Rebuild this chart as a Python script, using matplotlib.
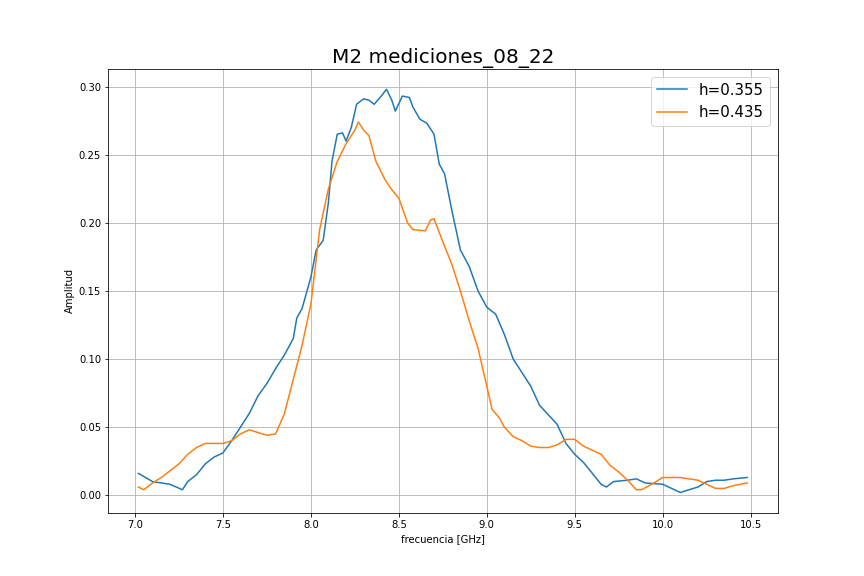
import matplotlib
matplotlib.use('Agg')
import matplotlib.pyplot as plt

freq_a = [7.02, 7.1, 7.2, 7.27, 7.3, 7.35, 7.4, 7.45, 7.5, 7.55, 7.6, 7.65, 7.7, 7.75, 7.8,
          7.85, 7.9, 7.92, 7.95, 8.0, 8.03, 8.07, 8.1, 8.12, 8.15, 8.18, 8.2, 8.23, 8.26, 8.3,
          8.33, 8.36, 8.4, 8.43, 8.46, 8.48, 8.52, 8.56, 8.58, 8.62, 8.66, 8.7, 8.73, 8.76, 8.8,
          8.85, 8.9, 8.95, 9.0, 9.05, 9.1, 9.15, 9.2, 9.25, 9.3, 9.35, 9.4, 9.45, 9.5, 9.55,
          9.6, 9.65, 9.68, 9.72, 9.8, 9.85, 9.9, 10.0, 10.1, 10.15, 10.2, 10.25, 10.3, 10.35,
          10.4, 10.48]
amp_a = [0.016, 0.010, 0.008, 0.004, 0.010, 0.015, 0.023, 0.028, 0.031, 0.040, 0.050, 0.060,
         0.073, 0.082, 0.093, 0.103, 0.115, 0.130, 0.137, 0.160, 0.180, 0.187, 0.215, 0.245,
         0.265, 0.266, 0.260, 0.270, 0.287, 0.291, 0.290, 0.287, 0.293, 0.298, 0.290, 0.282,
         0.293, 0.292, 0.285, 0.276, 0.273, 0.265, 0.243, 0.236, 0.210, 0.180, 0.168, 0.150,
         0.138, 0.133, 0.118, 0.100, 0.090, 0.080, 0.066, 0.059, 0.052, 0.038, 0.030, 0.024,
         0.016, 0.008, 0.006, 0.010, 0.011, 0.012, 0.009, 0.008, 0.002, 0.004, 0.006, 0.010,
         0.011, 0.011, 0.012, 0.013]

freq_b = [7.02, 7.05, 7.1, 7.15, 7.2, 7.25, 7.3, 7.35, 7.4, 7.45, 7.5, 7.55, 7.6, 7.65, 7.7,
          7.75, 7.8, 7.85, 7.9, 7.95, 8.0, 8.05, 8.1, 8.15, 8.2, 8.25, 8.27, 8.3, 8.33, 8.37,
          8.42, 8.45, 8.5, 8.55, 8.58, 8.65, 8.68, 8.7, 8.75, 8.8, 8.85, 8.9, 8.95, 9.0, 9.03,
          9.07, 9.1, 9.15, 9.2, 9.25, 9.3, 9.35, 9.4, 9.45, 9.5, 9.55, 9.6, 9.65, 9.7, 9.75,
          9.8, 9.85, 9.88, 9.95, 10.0, 10.1, 10.2, 10.25, 10.3, 10.35, 10.4, 10.48]
amp_b = [0.006, 0.004, 0.009, 0.013, 0.018, 0.023, 0.030, 0.035, 0.038, 0.038, 0.038, 0.040,
         0.045, 0.048, 0.046, 0.044, 0.045, 0.060, 0.085, 0.110, 0.140, 0.195, 0.225, 0.245,
         0.258, 0.268, 0.274, 0.268, 0.264, 0.245, 0.232, 0.226, 0.218, 0.200, 0.195, 0.194,
         0.202, 0.203, 0.186, 0.170, 0.150, 0.128, 0.108, 0.080, 0.063, 0.057, 0.050, 0.043,
         0.040, 0.036, 0.035, 0.035, 0.037, 0.041, 0.041, 0.036, 0.033, 0.030, 0.022, 0.017,
         0.011, 0.004, 0.004, 0.009, 0.013, 0.013, 0.011, 0.008, 0.005, 0.005, 0.007, 0.009]

fig = plt.figure(figsize=(12, 8), dpi=72)
plt.plot(freq_a, amp_a, label='h=0.355')
plt.plot(freq_b, amp_b, label='h=0.435')
plt.title('M2 mediciones_08_22', fontsize=20)
plt.xlabel('frecuencia [GHz]')
plt.ylabel('Amplitud')
plt.grid()
plt.legend(fontsize=15)
plt.savefig('out.png', dpi=72)
